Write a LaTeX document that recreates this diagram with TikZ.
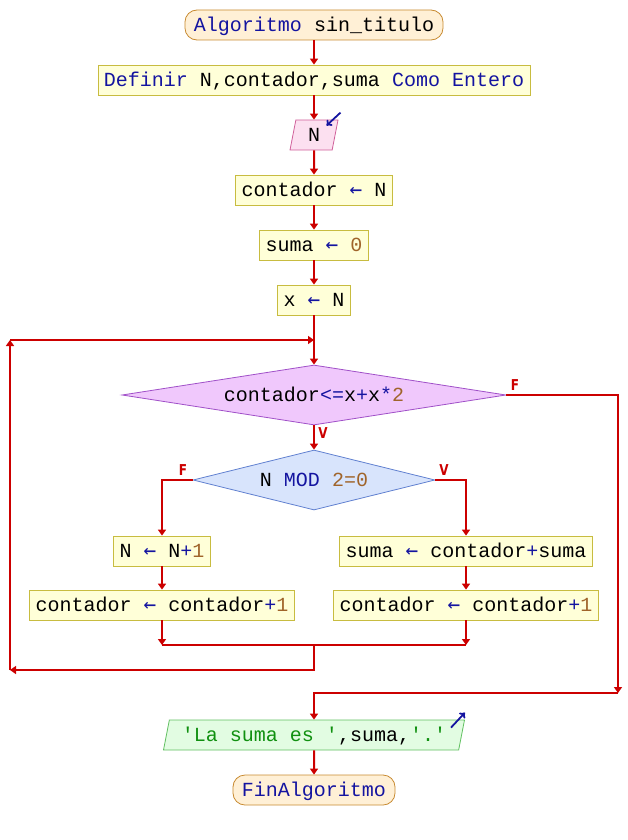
\documentclass[tikz,border=0pt]{standalone}
\usepackage{fontspec}
\setmonofont{Liberation Mono}
\newfontfamily\lblfont{DejaVu Sans}[FakeStretch=0.8]
\newfontfamily\arrfont{DejaVu Sans Mono}
\usetikzlibrary{arrows.meta,shapes.geometric}

\definecolor{flowred}{HTML}{CC0000}
\definecolor{kwblue}{HTML}{1414A0}
\definecolor{numbrown}{HTML}{A0642A}
\definecolor{strgreen}{HTML}{109010}
\definecolor{termfill}{HTML}{FFF0D6}
\definecolor{termline}{HTML}{C88A30}
\definecolor{procfill}{HTML}{FFFFD8}
\definecolor{procline}{HTML}{C8BC40}
\definecolor{inpfill}{HTML}{FCE0F0}
\definecolor{inpline}{HTML}{D0609A}
\definecolor{outfill}{HTML}{E2FCE2}
\definecolor{outline}{HTML}{60C060}
\definecolor{condfill}{HTML}{F0C8FC}
\definecolor{condline}{HTML}{A050C8}
\definecolor{siffill}{HTML}{D8E4FC}
\definecolor{sifline}{HTML}{6080D0}

\newcommand{\kwd}[1]{\textcolor{kwblue}{#1}}
\newcommand{\nmb}[1]{\textcolor{numbrown}{#1}}
\newcommand{\strg}[1]{\textcolor{strgreen}{#1}}
\newcommand{\asg}{\textcolor{kwblue}{\arrfont\fontsize{21}{24}\selectfont ←}}

\tikzset{
  base/.style={font=\ttfamily\fontsize{20}{24}\selectfont, text height=15.5pt, text depth=2.5pt,
    minimum height=30pt, inner xsep=6pt, inner ysep=0pt, line width=0.8pt},
  term/.style={base, rectangle, rounded corners=12pt, fill=termfill, draw=termline, inner xsep=9pt},
  proc/.style={base, rectangle, fill=procfill, draw=procline},
  inp/.style={base, trapezium, trapezium left angle=72, trapezium right angle=108,
    trapezium stretches body, fill=inpfill, draw=inpline},
  outp/.style={base, trapezium, trapezium left angle=72, trapezium right angle=108,
    trapezium stretches body, fill=outfill, draw=outline},
  cond/.style={base, diamond, inner sep=0pt, aspect=6},
  flow/.style={draw=flowred, line width=2pt, -{Triangle[length=6pt,width=8pt]}},
  plain/.style={draw=flowred, line width=2pt},
  lbl/.style={text=flowred, font=\lblfont\bfseries\fontsize{15}{15}\selectfont, inner sep=0pt},
  ioarrow/.style={draw=kwblue, line width=1.8pt, -{To[length=5pt,width=8pt]}}
}

\begin{document}
\begin{tikzpicture}[x=1pt, y=-1pt]
  \useasboundingbox (0,0) rectangle (628,840);

  % bloques
  \node[term] (start) at (314,25) {\kwd{Algoritmo} sin\_titulo};
  \node[proc] (defs) at (314,80) {\kwd{Definir} N,contador,suma \kwd{Como Entero}};
  \node[inp, minimum width=48pt] (leer) at (314,135) {N};
  \node[proc] (asig1) at (314,190) {contador \asg{} N};
  \node[proc] (asig2) at (314,245) {suma \asg{} \nmb{0}};
  \node[proc] (asig3) at (314,300) {x \asg{} N};
  \node[cond, fill=condfill, draw=condline, minimum width=384pt, minimum height=60pt] (mientras)
    at (314,395) {contador\kwd{<=}x\kwd{+}x\kwd{*}\nmb{2}};
  \node[cond, fill=siffill, draw=sifline, minimum width=242pt, minimum height=60pt] (si)
    at (314,480) {N \kwd{MOD} \nmb{2=0}};
  \node[proc] (sinoA) at (162,551) {N \asg{} N\kwd{+}\nmb{1}};
  \node[proc] (sinoB) at (162,605) {contador \asg{} contador\kwd{+}\nmb{1}};
  \node[proc] (entA) at (466,551) {suma \asg{} contador\kwd{+}suma};
  \node[proc] (entB) at (466,605) {contador \asg{} contador\kwd{+}\nmb{1}};
  \node[outp, minimum width=301pt] (escribir) at (314,735) {\strg{'La suma es '},suma,\strg{'.'}};
  \node[term] (fin) at (314,790) {\kwd{FinAlgoritmo}};

  % puntos de paso
  \coordinate (loopin) at (314,340);
  \coordinate (loopup) at (10,340);
  \coordinate (loopdown) at (10,670);
  \coordinate (joinB) at (314,645);
  \coordinate (backB) at (314,670);
  \coordinate (exitR) at (618,693);

  % flechas
  \draw[flow] (start) -- (defs);
  \draw[flow] (defs) -- (leer);
  \draw[flow] (leer) -- (asig1);
  \draw[flow] (asig1) -- (asig2);
  \draw[flow] (asig2) -- (asig3);
  \draw[flow] (asig3) -- (mientras);
  \draw[flow] (mientras) -- (si);
  \draw[flow] (si.west) -- (si.west -| sinoA) -- (sinoA);
  \draw[flow] (si.east) -- (si.east -| entA) -- (entA);
  \draw[flow] (sinoA) -- (sinoB);
  \draw[flow] (entA) -- (entB);
  \draw[flow] (sinoB) -- (sinoB |- joinB);
  \draw[flow] (entB) -- (entB |- joinB);
  \draw[plain] (sinoB |- joinB) -- (entB |- joinB);
  \draw[flow] (joinB) -- (backB) -- (loopdown);
  \draw[flow] (loopdown) -- (loopup);
  \draw[flow] (loopup) -- (loopin);
  \draw[flow] (mientras.east) -- (mientras.east -| exitR) -- (exitR);
  \draw[flow] (exitR) -- (exitR -| escribir) -- (escribir);
  \draw[flow] (escribir) -- (fin);

  % etiquetas
  \node[lbl] (fM) at (515,385) {F};
  \node[lbl] (vM) at (323,433) {V};
  \node[lbl] (fS) at (183,470) {F};
  \node[lbl] (vS) at (444,470) {V};

  % entrada / salida
  \draw[ioarrow] ([shift={(2,-7)}]leer.top right corner) -- ([shift={(-12,6)}]leer.top right corner);
  \draw[ioarrow] ([shift={(-14,8)}]escribir.top right corner) -- ([shift={(0,-7)}]escribir.top right corner);
\end{tikzpicture}
\end{document}
